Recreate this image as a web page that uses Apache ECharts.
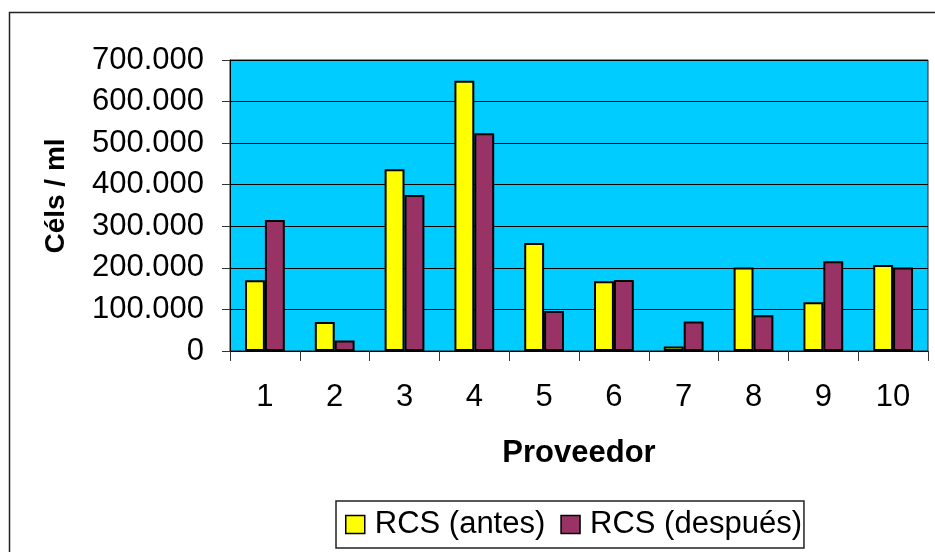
<!DOCTYPE html>
<html>
<head>
<meta charset="utf-8">
<script src="https://cdn.jsdelivr.net/npm/echarts@6/dist/echarts.min.js"></script>
<style>html,body{margin:0;padding:0;background:#fff;}#c{width:935px;height:552px;}</style>
</head>
<body>
<div id="c"></div>
<script>
const categories = ['1','2','3','4','5','6','7','8','9','10'];
const antes = [170000, 70000, 437000, 650000, 260000, 168000, 11000, 201000, 117000, 207000];
const despues = [315000, 25000, 375000, 524000, 96000, 171000, 71000, 86000, 216000, 201000];
const seriesNames = ['RCS (antes)', 'RCS (después)'];

const F = 'Liberation Sans, Arial, sans-serif';
const chart = echarts.init(document.getElementById('c'));
function fmt(v){ return v === 0 ? '0' : String(v).replace(/\B(?=(\d{3})+(?!\d))/g, '.'); }
chart.setOption({
  animation: false,
  backgroundColor: '#fff',
  graphic: [{
    type: 'rect', silent: true, z: -1,
    shape: { x: 9.5, y: 12.5, width: 1000, height: 1000 },
    style: { fill: 'none', stroke: '#222', lineWidth: 1.5 }
  }],
  grid: {
    left: 230, right: 7, top: 60, bottom: 201,
    show: true, backgroundColor: '#00CCFF', borderColor: '#222', borderWidth: 1
  },
  legend: {
    left: 336, top: 501,
    orient: 'horizontal',
    data: seriesNames,
    icon: 'rect',
    itemWidth: 19, itemHeight: 18, itemGap: 15,
    padding: [8, 2, 8, 9],
    borderColor: '#222', borderWidth: 1.5,
    textStyle: { fontFamily: F, fontSize: 31, color: '#000', padding: [0,0,0,5] },
    itemStyle: { borderColor: '#000', borderWidth: 1.5 }
  },
  xAxis: {
    type: 'category',
    data: categories,
    name: 'Proveedor',
    nameLocation: 'middle',
    nameGap: 87,
    nameTextStyle: { fontFamily: F, fontSize: 31, fontWeight: 'bold', color: '#000' },
    axisLine: { lineStyle: { color: '#000', width: 1 } },
    axisTick: { show: true, length: 10, lineStyle: { color: '#333' } },
    axisLabel: { fontFamily: F, fontSize: 31, color: '#000', margin: 31 }
  },
  yAxis: {
    type: 'value',
    min: 0, max: 700000, interval: 100000,
    name: 'Céls / ml',
    nameLocation: 'middle',
    nameGap: 160,
    nameRotate: 90,
    nameTextStyle: { fontFamily: F, fontSize: 28, fontWeight: 'bold', color: '#000', padding: [0,0,0,19] },
    axisLine: { show: true, lineStyle: { color: '#000', width: 1 } },
    axisTick: { show: true, length: 8, lineStyle: { color: '#333' } },
    axisLabel: { fontFamily: F, fontSize: 31, color: '#000', margin: 26, formatter: fmt },
    splitLine: { show: true, lineStyle: { color: '#000', width: 1 } }
  },
  series: [
    { name: seriesNames[0], type: 'bar', data: antes, barGap: '0%', barCategoryGap: '43%',
      itemStyle: { color: '#FFFF00', borderColor: '#000', borderWidth: 2 } },
    { name: seriesNames[1], type: 'bar', data: despues, barGap: '0%', barCategoryGap: '43%',
      itemStyle: { color: '#993366', borderColor: '#000', borderWidth: 2 } }
  ]
});
</script>
</body>
</html>
